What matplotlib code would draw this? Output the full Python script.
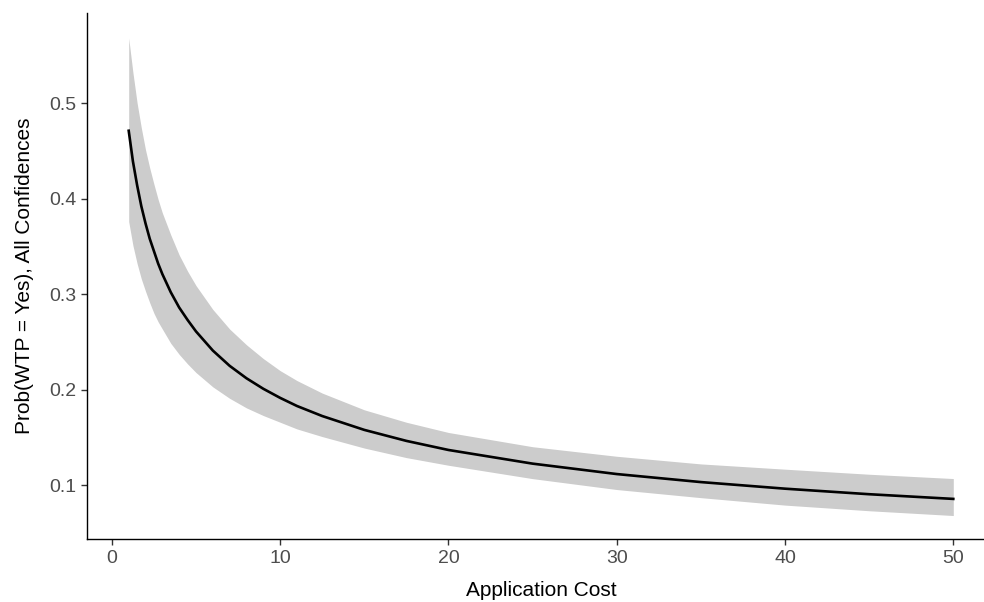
import matplotlib.pyplot as plt

plt.rcParams["font.family"] = ["Liberation Sans", "DejaVu Sans"]

# values
cost = [1, 1.25, 1.5, 1.75, 2, 2.25, 2.5, 2.75, 3, 3.5, 4, 4.5, 5, 6, 7, 8, 9, 10, 11,
        12.5, 15, 17.5, 20, 25, 30, 35, 40, 45, 50]
prob = [0.471, 0.439, 0.414, 0.392, 0.374, 0.358, 0.345, 0.332, 0.321, 0.302, 0.286,
        0.273, 0.261, 0.241, 0.225, 0.212, 0.201, 0.1915, 0.183, 0.1725, 0.158, 0.1465,
        0.137, 0.1227, 0.1118, 0.1034, 0.0965, 0.0907, 0.0858]
upper = [0.568, 0.532, 0.500, 0.474, 0.451, 0.432, 0.415, 0.399, 0.385, 0.362, 0.341,
         0.324, 0.309, 0.284, 0.2635, 0.247, 0.2326, 0.220, 0.2096, 0.1965, 0.179, 0.166,
         0.1553, 0.1404, 0.1304, 0.1224, 0.1169, 0.1116, 0.1071]
lower = [0.376, 0.351, 0.332, 0.316, 0.303, 0.291, 0.280, 0.271, 0.2635, 0.2486, 0.237,
         0.227, 0.218, 0.203, 0.191, 0.181, 0.173, 0.166, 0.159, 0.151, 0.139, 0.129,
         0.121, 0.107, 0.0956, 0.0871, 0.0793, 0.0734, 0.0684]

fig = plt.figure(figsize=(9.84, 6.02), dpi=100)
ax = fig.add_axes([0.0889, 0.1041, 0.9218, 0.8748])

ax.fill_between(cost, lower, upper, color="#cccccc", linewidth=0)
ax.plot(cost, prob, color="black", lw=1.9, solid_joinstyle="round")

ax.set_xlim(-1.45, 52.45)
ax.set_ylim(0.0435, 0.5945)
ax.set_xticks([0, 10, 20, 30, 40, 50])
ax.set_yticks([0.1, 0.2, 0.3, 0.4, 0.5])
ax.set_yticklabels(["0.1", "0.2", "0.3", "0.4", "0.5"])

for s in ["top", "right"]:
    ax.spines[s].set_visible(False)
for s in ["left", "bottom"]:
    ax.spines[s].set_color("black")
    ax.spines[s].set_linewidth(1.0)

ax.tick_params(length=4, width=1, color="#333333", labelcolor="#4d4d4d",
               labelsize=14, pad=4)

ax.set_xlabel("Application Cost", fontsize=15, labelpad=10)
ax.set_ylabel("Prob(WTP = Yes), All Confidences", fontsize=15, labelpad=11)

plt.savefig("out.png", dpi=100)
